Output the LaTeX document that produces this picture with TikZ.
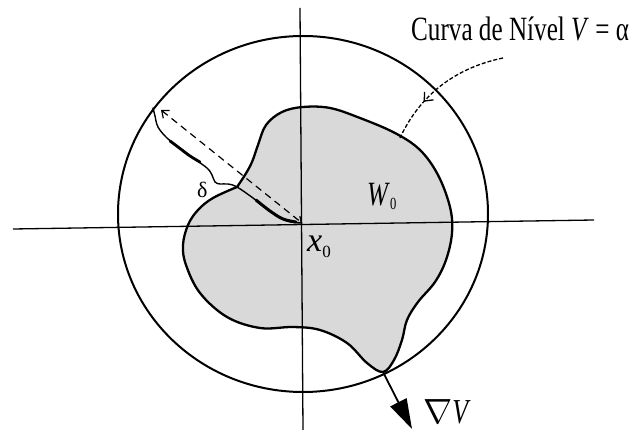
\RequirePackage{fix-cm}
\documentclass[tikz,border=0pt]{standalone}
\usepackage{fontspec}
\setmainfont{Liberation Serif}
\usetikzlibrary{arrows.meta,decorations.markings}
\newcommand{\cnd}[1]{\scalebox{0.74}[1]{#1}}
\tikzset{
  axisline/.style={line width=1.3pt},
  outline/.style={line width=2.3pt},
  lab/.style={inner sep=0pt, anchor=base west},
}
\begin{document}
\begin{tikzpicture}[x=1pt,y=-1pt]
\useasboundingbox (0,0) rectangle (632,430);
% region W0
\path[fill=gray!30, draw=black, outline]
  plot[smooth, tension=0.6] coordinates {(237,187) (245,175) (252,162) (258,145) (266,125) (282,112) (303,107) (330,108) (360,118) (395,133) (420,150) (438,175) (450,207) (452,233) (446,260) (435,282) (418,302) (407,320) (402,340) (394,360) (383,372) (367,363) (347,343) (320,330) (293,327) (260,328) (227,317) (200,293) (186,265) (183,245) (188,225) (198,210) (213,198) (237,187)} -- cycle;
% axes
\coordinate (hl) at (13,229); \coordinate (hr) at (594,220);
\coordinate (vt) at (300,8);  \coordinate (vb) at (303,430);
\coordinate (O) at (302,223);
\draw[axisline] (hl) -- (hr);
\draw[axisline] (vt) -- (vb);
% level curve
\draw[line width=2pt] (303,214) ellipse [x radius=185, y radius=178];
% delta path
\draw[line width=1.4pt, line cap=round, line join=round]
  plot[smooth, tension=0.6] coordinates {(302,223) (287,221) (270,211) (253,198) (237,187) (228,184) (220,184) (215,182) (212,175) (207,168) (193,158) (180,148) (167,138) (158,127) (155,116) (153,108)};
\draw[line width=3pt, line cap=round]
  plot[smooth, tension=0.6] coordinates {(296,222) (283,219) (270,211) (256,200)};
\draw[line width=2.8pt, line cap=round]
  plot[smooth, tension=0.6] coordinates {(200,162) (190,156) (178,147) (170,141)};
% dashed radius
\coordinate (R) at (161,110);
\draw[line width=1.2pt, dash pattern=on 7pt off 5pt,
  {Straight Barb[length=6pt,width=10pt]}-{Straight Barb[length=5pt,width=8pt]}] (R) -- (O);
% pointer to the level curve
\coordinate (P0) at (503,58); \coordinate (P1) at (400,138);
\draw[line width=1.3pt, dash pattern=on 4pt off 2pt,
  decoration={markings, mark=at position 0.68 with {\arrow{Straight Barb[length=7pt,width=12pt]}}},
  postaction={decorate}]
  (P0) .. controls (455,68) and (420,95) .. (P1);
% gradient
\coordinate (G0) at (383,372); \coordinate (G1) at (412,429);
\draw[line width=1.8pt, -{Triangle[length=30pt,width=18pt]}] (G0) -- (G1);
% labels
\node[lab] (curva) at (411,41) {\cnd{\fontsize{34}{34}\selectfont Curva de Nível \textit{V} = α}};
\node[lab] (w0) at (367,206) {\cnd{\fontsize{34}{34}\selectfont\textit{W}\raisebox{-4pt}{\fontsize{17}{17}\selectfont 0}}};
\node[lab] (x0) at (307,252) {\fontsize{34}{34}\selectfont\textit{x}\raisebox{-6pt}{\fontsize{17}{17}\selectfont 0}};
\node[lab] (delta) at (197,198) {\fontsize{22}{22}\selectfont δ};
\node[lab] (grad) at (423,423) {\fontsize{35}{35}\selectfont$\nabla$\cnd{\textit{V}}};
\end{tikzpicture}
\end{document}
